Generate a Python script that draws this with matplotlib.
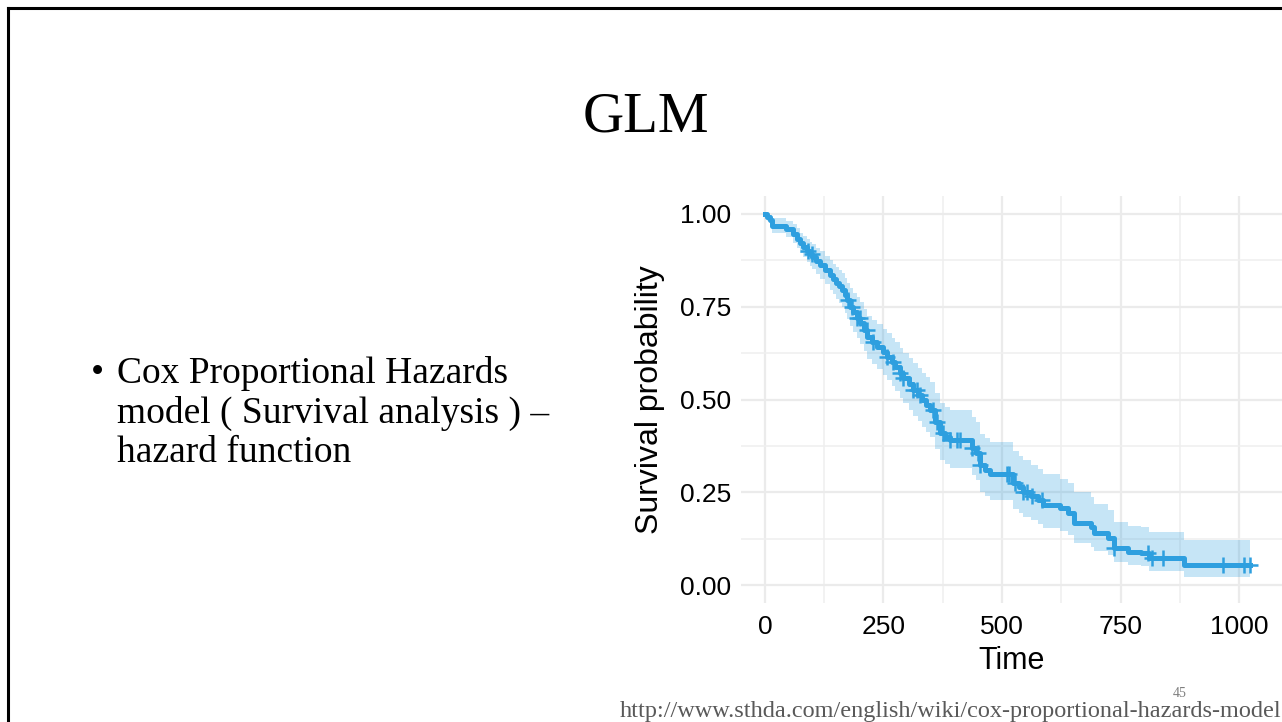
# Slide with a Cox model survival curve (ggsurvplot style)

import numpy as np
import matplotlib.pyplot as plt
from matplotlib.lines import Line2D

# step points of the survival curve
time = [0, 5, 11, 15, 45, 59, 67, 74, 81, 88, 95, 100, 108, 116, 126, 137,
        144, 150, 157, 163, 168, 173, 180, 186, 194, 201, 208, 216, 226, 237,
        250, 258, 268, 275, 285, 292, 303, 313, 322, 332, 340, 349, 359, 370,
        380, 391, 437, 445, 454, 465, 475, 524, 535, 545, 560, 575, 587, 623,
        638, 651, 687, 693, 723, 735, 765, 792, 809, 883, 1022]
surv = [1.000, 0.992, 0.985, 0.968, 0.960, 0.945, 0.933, 0.922, 0.911, 0.900,
        0.892, 0.885, 0.874, 0.863, 0.850, 0.836, 0.826, 0.815, 0.805, 0.795,
        0.781, 0.768, 0.750, 0.736, 0.721, 0.706, 0.687, 0.668, 0.655, 0.642,
        0.628, 0.615, 0.600, 0.588, 0.572, 0.558, 0.542, 0.526, 0.512, 0.499,
        0.486, 0.472, 0.439, 0.410, 0.400, 0.391, 0.370, 0.356, 0.323, 0.310,
        0.299, 0.275, 0.263, 0.251, 0.240, 0.229, 0.216, 0.208, 0.194, 0.167,
        0.156, 0.140, 0.127, 0.100, 0.089, 0.086, 0.073, 0.054, 0.054]
lower = [1.000, 0.982, 0.970, 0.948, 0.938, 0.922, 0.908, 0.896, 0.883, 0.870,
         0.860, 0.852, 0.839, 0.826, 0.811, 0.795, 0.784, 0.772, 0.760, 0.748,
         0.733, 0.718, 0.698, 0.683, 0.666, 0.650, 0.630, 0.610, 0.596, 0.582,
         0.566, 0.552, 0.536, 0.523, 0.505, 0.490, 0.473, 0.456, 0.441, 0.427,
         0.413, 0.398, 0.366, 0.336, 0.326, 0.316, 0.296, 0.282, 0.251, 0.240,
         0.229, 0.205, 0.194, 0.184, 0.174, 0.165, 0.153, 0.146, 0.135, 0.112,
         0.103, 0.092, 0.080, 0.061, 0.053, 0.050, 0.038, 0.022, 0.022]
upper = [1.000, 0.998, 0.996, 0.988, 0.982, 0.972, 0.961, 0.950, 0.941, 0.932,
         0.925, 0.918, 0.909, 0.900, 0.888, 0.875, 0.866, 0.857, 0.849, 0.840,
         0.828, 0.815, 0.800, 0.788, 0.775, 0.762, 0.744, 0.726, 0.714, 0.703,
         0.690, 0.679, 0.666, 0.655, 0.640, 0.626, 0.612, 0.598, 0.585, 0.572,
         0.560, 0.548, 0.518, 0.490, 0.481, 0.472, 0.453, 0.440, 0.408, 0.396,
         0.385, 0.360, 0.348, 0.336, 0.324, 0.312, 0.298, 0.287, 0.275, 0.250,
         0.237, 0.218, 0.202, 0.170, 0.160, 0.155, 0.143, 0.121, 0.121]
# censored observations
censored = [91, 99, 175, 184, 194, 200, 215, 228, 258, 270, 285, 292, 313, 321,
            328, 355, 363, 376, 391, 405, 412, 437, 450, 454, 511, 514, 528,
            545, 553, 564, 585, 735, 807, 816, 839, 966, 1010, 1022]

xticks = [0, 250, 500, 750, 1000]
yticks = [0.00, 0.25, 0.50, 0.75, 1.00]

color = "#2E9FDF"

fig = plt.figure(figsize=(12.82, 7.22), dpi=100)
W, H = 1282, 722

# slide frame (left and top edges)
fig.add_artist(Line2D([7.5 / W, 7.5 / W], [0, 1 - 7.5 / H], color="black", lw=2.2))
fig.add_artist(Line2D([7.5 / W, 1], [1 - 7.5 / H, 1 - 7.5 / H], color="black", lw=2.2))

# title and bullet text
fig.text(646 / W, 1 - 118 / H, "GLM", family="Liberation Serif", fontsize=41,
         ha="center", va="center")
fig.text(91 / W, 1 - 383 / H, "•", family="Liberation Serif", fontsize=27, va="baseline")
lines = ["Cox Proportional Hazards", "model ( Survival analysis ) –", "hazard function"]
for i, line in enumerate(lines):
    fig.text(117 / W, 1 - (383 + 39.5 * i) / H, line, family="Liberation Serif",
             fontsize=27, va="baseline")

fig.text(1180 / W, 1 - 697 / H, "45", family="Liberation Serif", fontsize=10,
         color="#7f7f7f", ha="center", va="baseline")
fig.text(1281 / W, 1 - 717 / H, "http://www.sthda.com/english/wiki/cox-proportional-hazards-model",
         family="Liberation Serif", fontsize=17.5, color="#595959", ha="right", va="baseline")

# survival plot
ax = fig.add_axes([741 / W, 1 - 603 / H, (1282 - 741) / W, (603 - 196) / H])
ax.set_facecolor("white")
for s in ax.spines.values():
    s.set_visible(False)

ax.fill_between(time, lower, upper, step="post", color=color, alpha=0.27, lw=0)
ax.step(time, surv, where="post", color=color, lw=3.6)

t = np.array(time)
s_arr = np.array(surv)
idx = np.searchsorted(t, censored, side="right") - 1
ax.plot(censored, s_arr[idx], ls="none", marker="+", ms=11, mew=1.8, color=color)

ax.set_xlim(-50.2, 1090)
ax.set_ylim(-0.0485, 1.0485)
ax.set_xticks(xticks)
ax.set_yticks(yticks)
ax.set_xticks([125, 375, 625, 875], minor=True)
ax.set_yticks([0.125, 0.375, 0.625, 0.875], minor=True)
ax.set_xticklabels([str(v) for v in xticks])
ax.set_yticklabels(["%.2f" % v for v in yticks])
ax.tick_params(which="both", length=0, labelsize=19, labelcolor="black")
ax.tick_params(axis="x", pad=9)
ax.tick_params(axis="y", pad=7)
for lab in ax.get_xticklabels() + ax.get_yticklabels():
    lab.set_family("Liberation Sans")

ax.grid(which="major", color="#EBEBEB", lw=1.6)
ax.grid(which="minor", color="#EFEFEF", lw=1.1)
ax.set_axisbelow(True)

ax.set_xlabel("Time", family="Liberation Sans", fontsize=22, labelpad=5)
ax.set_ylabel("Survival probability", family="Liberation Sans", fontsize=23, labelpad=11)

plt.savefig("out.png", dpi=100)
